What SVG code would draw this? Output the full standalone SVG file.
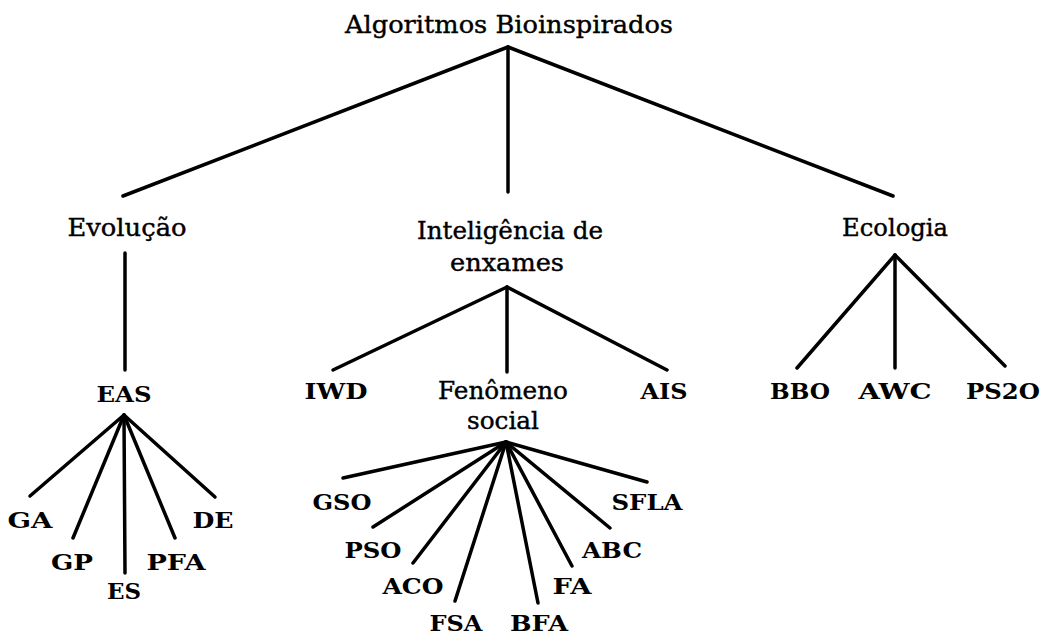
<svg xmlns="http://www.w3.org/2000/svg" width="1042" height="635" viewBox="0 0 1042 635">
<style>
text{font-family:"DejaVu Serif","Liberation Serif",serif;font-size:24px;fill:#000;text-anchor:middle;stroke:#000;stroke-width:0.4px}
.b{font-weight:bold;font-size:23px;stroke-width:0}
.t{font-size:25px}
#edges line{stroke:#000;stroke-width:3.5;stroke-linecap:round}
</style>
<rect width="1042" height="635" fill="#fff"/>
<g id="edges">
<line x1="508" y1="47" x2="123" y2="196"/>
<line x1="508" y1="47" x2="508" y2="192"/>
<line x1="508" y1="47" x2="893" y2="196"/>
<line x1="125" y1="253" x2="125" y2="370"/>
<line x1="124" y1="415" x2="30" y2="496"/>
<line x1="124" y1="415" x2="73" y2="538"/>
<line x1="124" y1="415" x2="125" y2="573"/>
<line x1="124" y1="415" x2="175" y2="538"/>
<line x1="124" y1="415" x2="215" y2="497"/>
<line x1="507" y1="287" x2="333" y2="370"/>
<line x1="507" y1="287" x2="507" y2="372"/>
<line x1="507" y1="287" x2="667" y2="370"/>
<line x1="506" y1="442" x2="343" y2="478"/>
<line x1="506" y1="442" x2="373" y2="527"/>
<line x1="506" y1="442" x2="413" y2="563"/>
<line x1="506" y1="442" x2="455" y2="601"/>
<line x1="506" y1="442" x2="538" y2="603"/>
<line x1="506" y1="442" x2="572" y2="566"/>
<line x1="506" y1="442" x2="610" y2="528"/>
<line x1="506" y1="442" x2="647" y2="482"/>
<line x1="895" y1="255" x2="797" y2="368"/>
<line x1="895" y1="255" x2="895" y2="368"/>
<line x1="895" y1="255" x2="1005" y2="366"/>
</g>
<g id="root"><text class="t" x="509" y="33" textLength="328" lengthAdjust="spacingAndGlyphs">Algoritmos Bioinspirados</text></g>
<g id="evolucao"><text x="127" y="236" textLength="119" lengthAdjust="spacingAndGlyphs">Evolução</text></g>
<g id="inteligencia"><text x="510" y="239" textLength="186" lengthAdjust="spacingAndGlyphs">Inteligência de</text><text x="507" y="271" textLength="114" lengthAdjust="spacingAndGlyphs">enxames</text></g>
<g id="ecologia"><text x="895" y="236" textLength="106" lengthAdjust="spacingAndGlyphs">Ecologia</text></g>
<g id="eas"><text class="b" x="124" y="402" textLength="55" lengthAdjust="spacingAndGlyphs">EAS</text></g>
<g id="ga"><text class="b" x="30" y="528" textLength="45" lengthAdjust="spacingAndGlyphs">GA</text></g>
<g id="gp"><text class="b" x="72" y="570" textLength="42" lengthAdjust="spacingAndGlyphs">GP</text></g>
<g id="es"><text class="b" x="124" y="599" textLength="34" lengthAdjust="spacingAndGlyphs">ES</text></g>
<g id="pfa"><text class="b" x="176" y="570" textLength="59" lengthAdjust="spacingAndGlyphs">PFA</text></g>
<g id="de"><text class="b" x="213" y="528" textLength="41" lengthAdjust="spacingAndGlyphs">DE</text></g>
<g id="iwd"><text class="b" x="336" y="399" textLength="63" lengthAdjust="spacingAndGlyphs">IWD</text></g>
<g id="fenomeno"><text x="503" y="399" textLength="130" lengthAdjust="spacingAndGlyphs">Fenômeno</text><text x="503" y="429" textLength="72" lengthAdjust="spacingAndGlyphs">social</text></g>
<g id="ais"><text class="b" x="664" y="399" textLength="47" lengthAdjust="spacingAndGlyphs">AIS</text></g>
<g id="gso"><text class="b" x="342" y="510" textLength="59" lengthAdjust="spacingAndGlyphs">GSO</text></g>
<g id="pso"><text class="b" x="373" y="558" textLength="57" lengthAdjust="spacingAndGlyphs">PSO</text></g>
<g id="aco"><text class="b" x="413" y="594" textLength="61" lengthAdjust="spacingAndGlyphs">ACO</text></g>
<g id="fsa"><text class="b" x="456" y="631" textLength="53" lengthAdjust="spacingAndGlyphs">FSA</text></g>
<g id="bfa"><text class="b" x="539" y="631" textLength="58" lengthAdjust="spacingAndGlyphs">BFA</text></g>
<g id="fa"><text class="b" x="572" y="594" textLength="39" lengthAdjust="spacingAndGlyphs">FA</text></g>
<g id="abc"><text class="b" x="612" y="558" textLength="60" lengthAdjust="spacingAndGlyphs">ABC</text></g>
<g id="sfla"><text class="b" x="647" y="510" textLength="71" lengthAdjust="spacingAndGlyphs">SFLA</text></g>
<g id="bbo"><text class="b" x="800" y="399" textLength="60" lengthAdjust="spacingAndGlyphs">BBO</text></g>
<g id="awc"><text class="b" x="895" y="399" textLength="73" lengthAdjust="spacingAndGlyphs">AWC</text></g>
<g id="ps2o"><text class="b" x="1003" y="399" textLength="74" lengthAdjust="spacingAndGlyphs">PS2O</text></g>
</svg>
